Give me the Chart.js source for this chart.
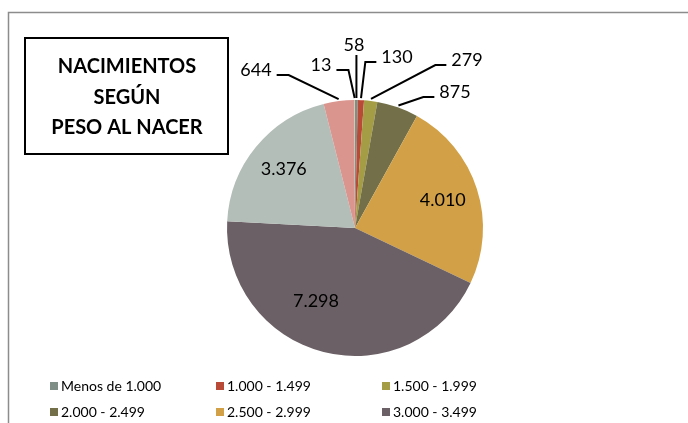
<!DOCTYPE html>
<html>
<head>
<meta charset="utf-8">
<script src="https://cdn.jsdelivr.net/npm/chart.js@4"></script>
<style>
  body { margin: 0; background: #fff; }
  #wrap { width: 688px; height: 423px; }
</style>
</head>
<body>
<div id="wrap"><canvas id="pesoChart" width="688" height="423"></canvas></div>
<script>
// datos del grafico
const categorias = ['Menos de 1.000', '1.000 - 1.499', '1.500 - 1.999', '2.000 - 2.499', '2.500 - 2.999', '3.000 - 3.499', '3.500 - 3.999', '4.000 y más', 'No consta'];
const nacimientos = [58, 130, 279, 875, 4010, 7298, 3376, 644, 13];
const etiquetas = ['58', '130', '279', '875', '4.010', '7.298', '3.376', '644', '13'];
const colores = ['#7F8F88', '#BA4A38', '#A59D46', '#737049', '#D2A147', '#6B6065', '#B4BEB8', '#DA958F', '#CDBF96'];

// etiquetas fuera del circulo (indice -> posicion del texto y lado de la guia)
const externas = {
    0: { x: 354, y: 45, side: 'up' },
    1: { x: 397, y: 57, side: 'right' },
    2: { x: 467, y: 60, side: 'right' },
    3: { x: 455, y: 92, side: 'right' },
    7: { x: 256, y: 70, side: 'left' },
    8: { x: 321, y: 65, side: 'left' }
};

const marcoPlugin = {
    id: 'marco',
    beforeDraw(chart) {
        const ctx = chart.ctx;
        ctx.save();
        ctx.strokeStyle = '#8c8c8c';
        ctx.lineWidth = 1.5;
        ctx.beginPath();
        ctx.moveTo(8.5, 440);
        ctx.lineTo(8.5, 12.5);
        ctx.lineTo(700, 12.5);
        ctx.stroke();
        ctx.restore();
    },
    afterDraw(chart) {
        const ctx = chart.ctx;
        const arcs = chart.getDatasetMeta(0).data;
        ctx.save();
        ctx.font = '18px Lato, "Open Sans", sans-serif';
        ctx.fillStyle = '#000';
        ctx.textBaseline = 'middle';

        arcs.forEach((arc, i) => {
            const mid = (arc.startAngle + arc.endAngle) / 2;
            const ext = externas[i];
            if (!ext) {
                // etiqueta dentro del sector
                let frac = 0.72, shift = 0;
                if (i === 5) { frac = 0.65; shift = 0.24; }
                const a = mid + shift;
                const tx = arc.x + Math.cos(a) * arc.outerRadius * frac;
                const ty = arc.y + Math.sin(a) * arc.outerRadius * frac;
                ctx.textAlign = 'center';
                ctx.fillText(etiquetas[i], tx, ty);
                return;
            }
            const r = arc.outerRadius + 2;
            const ax = arc.x + Math.cos(mid) * r;
            const ay = arc.y + Math.sin(mid) * r;
            ctx.textAlign = 'center';
            ctx.fillText(etiquetas[i], ext.x, ext.y);
            const w = ctx.measureText(etiquetas[i]).width;
            ctx.strokeStyle = '#000';
            ctx.lineWidth = 2;
            ctx.beginPath();
            ctx.moveTo(ax, ay);
            if (ext.side === 'up') {
                ctx.lineTo(ax, ext.y + 10);
            } else if (ext.side === 'left') {
                const edge = ext.x + w / 2 + 5;
                ctx.lineTo(edge + 12, ext.y + 5);
                ctx.lineTo(edge, ext.y + 5);
            } else {
                const edge = ext.x - w / 2 - 5;
                ctx.lineTo(edge - 11, ext.y + 5);
                ctx.lineTo(edge, ext.y + 5);
            }
            ctx.stroke();
        });

        // cuadro de titulo
        ctx.fillStyle = '#fff';
        ctx.fillRect(25, 38, 203, 116);
        ctx.strokeStyle = '#000';
        ctx.lineWidth = 2;
        ctx.strokeRect(25, 38, 203, 116);
        ctx.fillStyle = '#000';
        ctx.font = 'bold 20px Lato, "Open Sans", sans-serif';
        ctx.textAlign = 'center';
        ['NACIMIENTOS', 'SEGÚN', 'PESO AL NACER'].forEach((t, k) => {
            ctx.fillText(t, 127, 67 + k * 30.5);
        });

        // leyenda en tres columnas
        ctx.font = '14px Lato, "Open Sans", sans-serif';
        ctx.textAlign = 'left';
        categorias.forEach((c, i) => {
            const col = i % 3, row = Math.floor(i / 3);
            const x = 50 + col * 166, y = 386 + row * 26;
            ctx.fillStyle = colores[i];
            ctx.fillRect(x, y - 4, 8, 8);
            ctx.fillStyle = '#000';
            ctx.fillText(c, x + 11, y);
        });
        ctx.restore();
    }
};

const ctx = document.getElementById('pesoChart').getContext('2d');
const pesoChart = new Chart(ctx, {
    type: 'pie',
    data: {
        labels: categorias,
        datasets: [{
            data: nacimientos,
            backgroundColor: colores,
            borderWidth: 0
        }]
    },
    options: {
        responsive: false,
        animation: false,
        events: [],
        layout: {
            padding: { left: 227, right: 205, top: 100, bottom: 67 }
        },
        plugins: {
            legend: { display: false },
            tooltip: { enabled: false }
        }
    },
    plugins: [marcoPlugin]
});
</script>
</body>
</html>
